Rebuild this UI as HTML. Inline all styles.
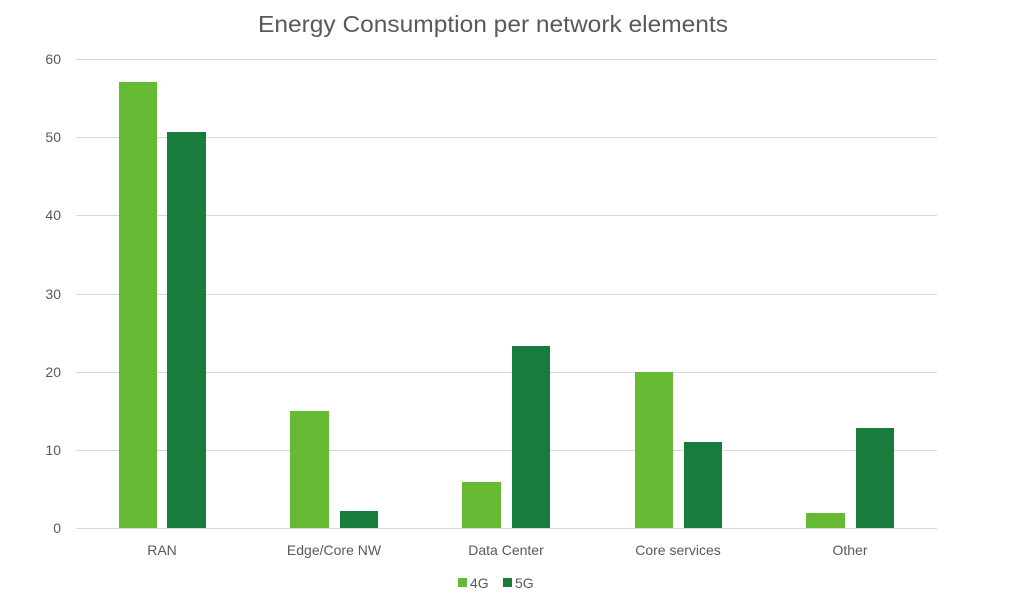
<!DOCTYPE html>
<html><head><meta charset="utf-8"><style>
body{margin:0;background:#fff;}
svg{display:block;font-family:"Liberation Sans",Calibri,sans-serif;}
</style></head><body>
<svg width="1024" height="605" xmlns="http://www.w3.org/2000/svg">
<rect width="1024" height="605" fill="#fff"/>
<text x="493" y="32" font-size="23" fill="#595959" text-anchor="middle" textLength="470" lengthAdjust="spacingAndGlyphs">Energy Consumption per network elements</text>
<g stroke="#d9d9d9" stroke-width="1">
<line x1="76" x2="937" y1="59.5" y2="59.5"/>
<line x1="76" x2="937" y1="137.5" y2="137.5"/>
<line x1="76" x2="937" y1="215.5" y2="215.5"/>
<line x1="76" x2="937" y1="294.5" y2="294.5"/>
<line x1="76" x2="937" y1="372.5" y2="372.5"/>
<line x1="76" x2="937" y1="450.5" y2="450.5"/>
<line x1="76" x2="937" y1="528.5" y2="528.5"/>
</g>
<g font-size="14" fill="#595959" text-anchor="end">
<text x="61" y="64">60</text><text x="61" y="142">50</text><text x="61" y="220">40</text>
<text x="61" y="299">30</text><text x="61" y="377">20</text><text x="61" y="455">10</text><text x="61" y="533">0</text>
</g>
<g fill="#66b932">
<rect x="119" y="82" width="38" height="446"/>
<rect x="290" y="411" width="39" height="117"/>
<rect x="462" y="482" width="39" height="46"/>
<rect x="635" y="372" width="38" height="156"/>
<rect x="806" y="513" width="39" height="15"/>
</g>
<g fill="#187c3c">
<rect x="167" y="132" width="39" height="396"/>
<rect x="340" y="511" width="38" height="17"/>
<rect x="512" y="346" width="38" height="182"/>
<rect x="684" y="442" width="38" height="86"/>
<rect x="856" y="428" width="38" height="100"/>
</g>
<g font-size="14" fill="#595959" text-anchor="middle">
<text x="162" y="555">RAN</text>
<text x="334" y="555">Edge/Core NW</text>
<text x="506" y="555">Data Center</text>
<text x="678" y="555">Core services</text>
<text x="850" y="555">Other</text>
</g>
<rect x="458" y="578" width="9" height="9" fill="#66b932"/>
<text x="470" y="588" font-size="14" fill="#595959">4G</text>
<rect x="503" y="578" width="9" height="9" fill="#187c3c"/>
<text x="515" y="588" font-size="14" fill="#595959">5G</text>
</svg>
</body></html>
